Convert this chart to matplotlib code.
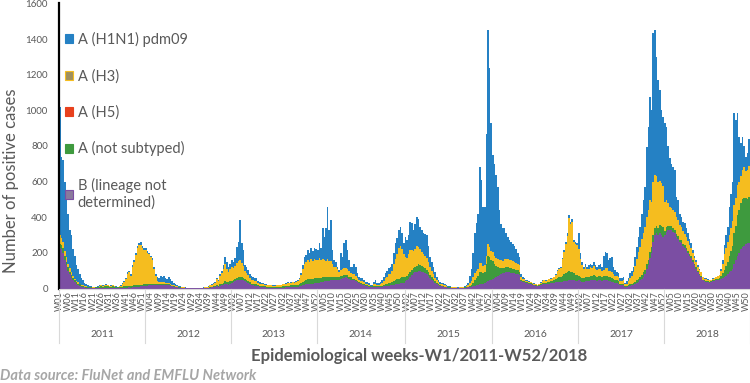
import numpy as np
import matplotlib
matplotlib.use('Agg')
import matplotlib.pyplot as plt
from matplotlib.patches import Patch
from matplotlib.transforms import blended_transform_factory

plt.rcParams['font.family'] = ['Lato', 'DejaVu Sans']

years = ['2011', '2012', '2013', '2014', '2015', '2016', '2017', '2018']
weeks_per_year = [52, 52, 52, 53, 53, 52, 52, 52]

# weekly positive cases, one line per year
b_lineage = [
    230, 220, 200, 160, 130, 100, 80, 60, 45, 35, 25, 20, 15, 10, 8, 6, 5, 4, 3, 2, 2, 2, 2, 2, 2, 2, 2, 2, 2, 2, 2, 2, 2, 2, 2, 2, 2, 2, 3, 4, 5, 5, 6, 5, 6, 8, 8, 10, 10, 12, 12, 14,
    15, 15, 18, 18, 20, 18, 18, 18, 20, 22, 22, 22, 20, 18, 18, 15, 12, 10, 8, 6, 5, 4, 3, 2, 2, 2, 1, 1, 1, 1, 1, 1, 1, 1, 1, 1, 2, 2, 3, 5, 6, 8, 8, 12, 10, 15, 18, 20, 25, 25, 22, 25,
    30, 35, 40, 45, 48, 50, 50, 45, 40, 35, 30, 25, 20, 18, 16, 15, 12, 10, 8, 7, 6, 5, 5, 4, 4, 4, 4, 4, 4, 4, 5, 5, 5, 6, 6, 6, 7, 8, 8, 10, 10, 12, 15, 18, 22, 24, 26, 26, 28, 28, 30, 30,
    30, 32, 35, 38, 40, 40, 42, 42, 45, 45, 45, 48, 50, 50, 55, 58, 60, 62, 60, 55, 50, 45, 45, 40, 35, 30, 25, 22, 20, 15, 12, 10, 8, 8, 8, 8, 8, 8, 8, 10, 12, 14, 15, 16, 18, 20, 22, 24, 26, 28, 30, 32, 32,
    40, 45, 55, 65, 75, 85, 90, 95, 100, 100, 95, 90, 85, 80, 70, 60, 50, 40, 30, 25, 20, 15, 12, 10, 8, 6, 5, 4, 3, 3, 3, 3, 2, 3, 3, 3, 4, 5, 6, 8, 10, 12, 15, 18, 20, 25, 25, 28, 30, 35, 40, 45, 50,
    55, 60, 65, 70, 75, 80, 85, 85, 90, 90, 90, 88, 85, 85, 80, 80, 75, 40, 35, 35, 30, 30, 25, 25, 20, 18, 15, 12, 15, 20, 25, 25, 25, 28, 28, 30, 30, 30, 35, 35, 35, 35, 38, 40, 40, 42, 45, 45, 45, 45, 40, 40,
    45, 40, 38, 38, 40, 40, 42, 45, 45, 48, 45, 42, 45, 45, 40, 45, 45, 45, 40, 40, 38, 35, 30, 30, 28, 20, 20, 18, 10, 10, 12, 15, 18, 20, 25, 30, 35, 45, 55, 65, 80, 110, 130, 170, 200, 260, 300, 310, 300, 310, 300, 290,
    300, 320, 330, 330, 330, 320, 310, 290, 280, 260, 255, 240, 230, 215, 200, 185, 170, 150, 130, 110, 90, 75, 65, 45, 40, 38, 35, 32, 35, 40, 42, 45, 48, 50, 55, 60, 65, 70, 80, 90, 100, 110, 140, 160, 180, 200, 220, 233, 240, 250, 255, 255,
]
a_not_subtyped = [
    20, 25, 25, 20, 20, 18, 15, 15, 12, 10, 10, 8, 8, 6, 6, 5, 5, 5, 5, 4, 3, 3, 4, 5, 8, 10, 8, 10, 12, 10, 6, 8, 10, 6, 4, 4, 5, 6, 8, 8, 10, 10, 10, 8, 10, 10, 12, 12, 12, 10, 10, 10,
    10, 10, 8, 8, 8, 6, 6, 5, 5, 5, 5, 5, 5, 5, 5, 5, 4, 4, 3, 3, 3, 2, 2, 2, 1, 1, 1, 1, 1, 1, 1, 1, 1, 1, 1, 1, 1, 2, 2, 3, 4, 4, 5, 8, 6, 8, 10, 12, 15, 12, 12, 15,
    12, 12, 14, 15, 15, 16, 15, 14, 12, 12, 10, 10, 8, 8, 8, 8, 6, 6, 6, 6, 6, 5, 5, 5, 5, 5, 5, 6, 6, 6, 6, 8, 8, 8, 10, 10, 10, 10, 10, 12, 12, 15, 18, 20, 22, 24, 25, 25, 26, 26, 28, 28,
    28, 28, 25, 25, 25, 22, 22, 22, 20, 20, 18, 18, 16, 15, 15, 15, 15, 15, 14, 12, 12, 10, 10, 10, 8, 8, 6, 6, 6, 5, 5, 4, 4, 4, 5, 5, 4, 4, 5, 6, 8, 10, 12, 14, 15, 18, 20, 22, 25, 28, 30, 30, 30,
    25, 25, 28, 30, 30, 30, 32, 32, 35, 32, 30, 30, 28, 25, 22, 18, 15, 12, 10, 8, 6, 5, 4, 4, 3, 3, 2, 2, 2, 1, 1, 1, 1, 1, 2, 1, 2, 3, 5, 8, 12, 20, 30, 40, 50, 70, 70, 60, 60, 100, 140, 130, 110,
    100, 80, 60, 50, 40, 35, 30, 30, 28, 28, 25, 25, 25, 25, 25, 22, 20, 10, 8, 8, 6, 6, 5, 5, 5, 4, 4, 3, 4, 5, 6, 8, 6, 8, 10, 10, 12, 15, 20, 25, 28, 30, 35, 40, 45, 50, 55, 50, 50, 40, 35, 35,
    25, 25, 22, 20, 25, 22, 25, 25, 25, 28, 25, 22, 25, 25, 22, 25, 28, 28, 25, 25, 22, 18, 15, 15, 12, 8, 8, 10, 5, 6, 8, 10, 10, 12, 14, 16, 18, 20, 22, 25, 25, 30, 30, 35, 35, 40, 40, 40, 40, 45, 50, 55,
    25, 25, 22, 20, 20, 20, 18, 18, 15, 15, 15, 12, 12, 12, 10, 10, 10, 8, 8, 8, 6, 6, 5, 5, 5, 5, 5, 5, 5, 6, 6, 6, 8, 10, 15, 25, 40, 55, 70, 90, 110, 130, 170, 190, 230, 240, 260, 270, 270, 260, 250, 260,
]
a_h5 = [0] * 418  # no A(H5) visible in any week
a_h3 = [
    50, 40, 35, 30, 25, 20, 18, 15, 12, 10, 8, 8, 5, 5, 4, 3, 3, 2, 2, 2, 2, 3, 3, 4, 5, 6, 5, 6, 8, 6, 5, 6, 8, 5, 4, 4, 6, 8, 15, 25, 40, 65, 75, 60, 105, 130, 170, 205, 220, 225, 205, 195,
    190, 175, 165, 150, 130, 85, 45, 20, 12, 12, 10, 10, 8, 8, 10, 8, 6, 5, 4, 3, 2, 2, 2, 2, 1, 1, 1, 1, 1, 1, 1, 1, 1, 2, 2, 2, 3, 4, 5, 10, 12, 15, 18, 35, 28, 50, 60, 80, 100, 75, 60, 70,
    80, 70, 75, 85, 90, 95, 80, 70, 45, 40, 35, 25, 22, 20, 18, 18, 12, 10, 10, 10, 10, 10, 8, 8, 8, 6, 6, 8, 8, 8, 9, 10, 12, 14, 16, 14, 15, 16, 14, 15, 18, 28, 45, 70, 95, 100, 110, 100, 110, 100, 105, 100,
    100, 110, 100, 100, 95, 95, 100, 90, 90, 70, 60, 55, 45, 30, 35, 35, 40, 40, 35, 30, 25, 25, 25, 22, 18, 12, 12, 12, 10, 8, 8, 8, 4, 4, 10, 15, 10, 10, 12, 15, 22, 35, 40, 50, 50, 60, 95, 120, 140, 170, 180, 160, 130,
    110, 100, 110, 120, 110, 95, 100, 110, 100, 90, 80, 75, 70, 65, 55, 40, 35, 30, 20, 15, 12, 8, 8, 8, 6, 5, 4, 3, 3, 2, 2, 2, 2, 2, 3, 2, 3, 5, 8, 15, 20, 30, 40, 40, 40, 50, 50, 40, 40, 50, 70, 60, 50,
    50, 45, 45, 45, 45, 45, 40, 50, 45, 45, 45, 45, 45, 40, 40, 38, 35, 15, 12, 10, 8, 8, 6, 5, 5, 5, 4, 3, 4, 8, 12, 13, 12, 12, 15, 16, 16, 18, 22, 40, 48, 52, 90, 125, 165, 205, 295, 265, 280, 175, 175, 170,
    150, 100, 70, 50, 55, 45, 45, 50, 45, 50, 40, 40, 40, 40, 35, 35, 40, 40, 35, 35, 35, 30, 28, 25, 25, 15, 15, 18, 8, 12, 20, 35, 45, 60, 90, 120, 150, 170, 200, 220, 240, 260, 280, 290, 250, 300, 300, 280, 260, 250, 240, 230,
    160, 150, 130, 110, 100, 100, 100, 95, 90, 80, 75, 70, 65, 60, 55, 50, 45, 40, 35, 30, 25, 22, 20, 12, 10, 10, 8, 8, 8, 10, 10, 12, 12, 14, 30, 50, 90, 100, 110, 120, 130, 140, 160, 160, 170, 160, 150, 160, 170, 150, 160, 170,
]
a_h1n1 = [
    720, 455, 460, 390, 325, 282, 217, 210, 151, 125, 87, 74, 52, 39, 27, 16, 12, 9, 5, 4, 3, 2, 2, 2, 2, 2, 3, 4, 3, 2, 2, 2, 2, 2, 2, 1, 2, 4, 4, 3, 5, 10, 9, 7, 9, 12, 10, 13, 13, 15, 13, 11,
    10, 10, 9, 9, 12, 11, 11, 22, 23, 31, 28, 33, 27, 24, 32, 27, 18, 11, 10, 8, 5, 4, 3, 2, 2, 1, 1, 1, 1, 1, 1, 1, 1, 1, 1, 2, 2, 2, 2, 2, 3, 3, 4, 5, 6, 7, 12, 18, 35, 38, 26, 30,
    38, 33, 41, 88, 107, 224, 110, 86, 33, 33, 29, 20, 20, 19, 18, 17, 10, 9, 8, 7, 6, 5, 4, 3, 3, 3, 3, 2, 2, 2, 2, 2, 3, 2, 3, 2, 3, 4, 3, 3, 5, 5, 9, 22, 38, 42, 54, 49, 63, 56, 64, 62,
    57, 85, 67, 177, 130, 183, 296, 176, 230, 80, 37, 29, 11, 9, 93, 69, 140, 155, 106, 63, 35, 42, 60, 50, 26, 15, 15, 18, 12, 9, 12, 8, 4, 4, 14, 20, 8, 8, 12, 17, 23, 28, 29, 34, 39, 42, 61, 89, 94, 104, 105, 88, 63,
    115, 100, 107, 158, 155, 120, 138, 166, 155, 123, 125, 116, 122, 130, 93, 59, 50, 40, 30, 17, 12, 9, 9, 8, 8, 6, 4, 3, 2, 2, 2, 2, 1, 2, 2, 2, 3, 7, 11, 39, 68, 138, 225, 272, 310, 539, 465, 332, 330, 685, 1200, 1001, 720,
    545, 515, 470, 405, 280, 200, 185, 175, 147, 127, 110, 102, 95, 90, 75, 60, 47, 15, 10, 5, 6, 4, 4, 2, 3, 3, 2, 2, 2, 2, 2, 2, 2, 2, 2, 2, 2, 2, 3, 4, 4, 5, 7, 10, 10, 13, 17, 13, 15, 12, 10, 10,
    90, 35, 20, 14, 20, 15, 18, 20, 15, 24, 20, 18, 20, 30, 25, 75, 92, 85, 60, 70, 82, 39, 31, 25, 22, 15, 17, 19, 7, 12, 18, 27, 27, 30, 48, 67, 87, 110, 143, 187, 225, 395, 467, 582, 515, 833, 810, 670, 570, 510, 410, 390,
    443, 413, 318, 270, 250, 244, 237, 112, 112, 65, 55, 53, 58, 53, 45, 35, 30, 18, 7, 12, 10, 5, 3, 3, 5, 5, 4, 3, 2, 2, 2, 2, 2, 2, 10, 25, 49, 75, 85, 160, 190, 218, 515, 436, 405, 250, 185, 187, 120, 80, 95, 155,
]

n_weeks = sum(weeks_per_year)
for s in (b_lineage, a_not_subtyped, a_h5, a_h3, a_h1n1):
    assert len(s) == n_weeks, len(s)

week_labels = ['W%02d' % w for n in weeks_per_year for w in range(1, n + 1)]

# bottom-to-top stacking order
series = [
    ('B (lineage not\ndetermined)', b_lineage, '#7B4EA3', '#8A7A9C'),
    ('A (not subtyped)', a_not_subtyped, '#3E9A3E', '#3E9A3E'),
    ('A (H5)', a_h5, '#E8411D', '#E8411D'),
    ('A (H3)', a_h3, '#F5BD1F', '#9F8F5E'),
    ('A (H1N1) pdm09', a_h1n1, '#2581C4', '#2581C4'),
]

fig = plt.figure(figsize=(7.5, 3.83), dpi=100)
ax = fig.add_axes([0.0787, 0.2467, 0.9213, 0.7442])

x = np.arange(n_weeks)
bottom = np.zeros(n_weeks)
for name, vals, col, _ in series:
    vals = np.array(vals, dtype=float)
    ax.bar(x, vals, bottom=bottom, width=1.0, color=col, linewidth=0)
    bottom += vals

ax.set_xlim(-0.5, n_weeks - 0.5)
ax.set_ylim(0, 1600)
ax.set_yticks(np.arange(0, 1601, 200))
ax.tick_params(axis='y', length=0, labelsize=7, labelcolor='#595959', pad=8)

ticks = x[::5]
ax.set_xticks(ticks)
ax.set_xticklabels([week_labels[i] for i in ticks], rotation=90, fontsize=6.5, color='#595959')
ax.tick_params(axis='x', length=0, pad=2)

for side in ('top', 'right'):
    ax.spines[side].set_visible(False)
ax.spines['left'].set_color('black')
ax.spines['left'].set_linewidth(1.6)
ax.spines['bottom'].set_color('#D9D9D9')
ax.spines['bottom'].set_linewidth(0.8)

ax.set_ylabel('Number of positive cases', fontsize=12, color='#595959')
ax.yaxis.set_label_coords(-0.058, 0.377)

# year bands under the week labels
trans = blended_transform_factory(ax.transData, ax.transAxes)
edges = np.concatenate([[0], np.cumsum(weeks_per_year)]) - 0.5
for e in edges:
    ax.plot([e, e], [0, -0.19], transform=trans, color='#D9D9D9', lw=0.8, clip_on=False)
for yr, a, b in zip(years, edges[:-1], edges[1:]):
    ax.text((a + b) / 2, -0.16, yr, transform=trans, ha='center', va='center',
            fontsize=7.5, color='#595959')

handles = [Patch(facecolor=leg, edgecolor=col, linewidth=0.8) for _, _, col, leg in series][::-1]
labels = [s[0] for s in series][::-1]
ax.legend(handles, labels, loc='upper left', bbox_to_anchor=(0.008, 0.90), frameon=False,
          fontsize=10.5, labelcolor='#595959', labelspacing=1.5, handlelength=0.55,
          handleheight=0.55, handletextpad=0.35, borderpad=0, borderaxespad=0)

fig.text(0.559, 0.07, 'Epidemiological weeks-W1/2011-W52/2018', ha='center', va='center',
         fontsize=12, fontweight='bold', color='#595959')
fig.text(0.0, 0.018, 'Data source: FluNet and EMFLU Network', ha='left', va='center',
         fontsize=10.5, fontweight='bold', style='italic', color='#A6A6A6')

fig.savefig('out.png', dpi=100)
